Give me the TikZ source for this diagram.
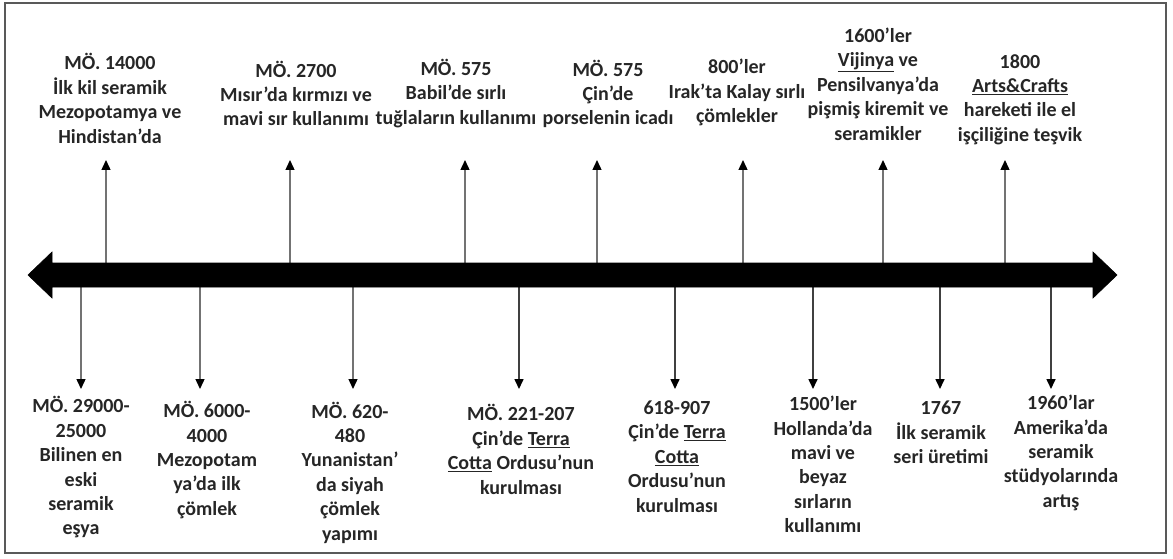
\documentclass[tikz,border=0pt]{standalone}
\usepackage{fontspec}
\setmainfont{Carlito}
\usetikzlibrary{arrows.meta}
\tikzset{
  lbl/.style={align=center, inner sep=0pt, font=\bfseries\fontsize{20}{24.4}\selectfont, text=black!85},
  tick/.style={draw=black!55, line width=1.4pt, -{Triangle[length=10pt,width=9pt,color=black]}},
  darktick/.style={tick, draw=black!75, line width=1.6pt},
  axis/.style={fill=black, draw=black, line width=0.6pt, line join=miter}
}
\newcommand{\myul}[1]{\underline{#1}}
\begin{document}
\begin{tikzpicture}[x=1pt,y=-1pt]
\useasboundingbox (0,0) rectangle (1173,559);
\fill[white] (0,0) rectangle (1173,559);
\draw[black!65, line width=1.8pt] (5,3) rectangle (1166,553);

% top labels
\node[lbl] (t1) at (110,98.5) {MÖ. 14000\\İlk kil seramik\\Mezopotamya ve\\Hindistan’da};
\node[lbl] (t2) at (296,93.5) {MÖ. 2700\\Mısır’da kırmızı ve\\mavi sır kullanımı};
\node[lbl] (t3) at (456,93.5) {MÖ. 575\\Babil’de sırlı\\tuğlaların kullanımı};
\node[lbl] (t4) at (608,94) {MÖ. 575\\Çin’de\\porselenin icadı};
\node[lbl] (t5) at (737,92.5) {800’ler\\Irak’ta Kalay sırlı\\çömlekler};
\node[lbl] (t6) at (878,84) {1600’ler\\\myul{Vijinya} ve\\Pensilvanya’da\\pişmiş kiremit ve\\seramikler};
\node[lbl] (t7) at (1020,99.5) {1800\\\myul{Arts\&Crafts}\\hareketi ile el\\işçiliğine teşvik};

% bottom labels
\node[lbl] (b1) at (81,467.5) {MÖ. 29000-\\25000\\Bilinen en\\eski\\seramik\\eşya};
\node[lbl] (b2) at (207,460) {MÖ. 6000-\\4000\\Mezopotam\\ya’da ilk\\çömlek};
\node[lbl] (b3) at (350,472.5) {MÖ. 620-\\480\\Yunanistan’\\da siyah\\çömlek\\yapımı};
\node[lbl] (b4) at (521,449.5) {MÖ. 221-207\\Çin’de \myul{Terra}\\\myul{Cotta} Ordusu’nun\\kurulması};
\node[lbl] (b5) at (677,456.5) {618-907\\Çin’de \myul{Terra}\\\myul{Cotta}\\Ordusu’nun\\kurulması};
\node[lbl] (b6) at (823,464.5) {1500’ler\\Hollanda’da\\mavi ve\\beyaz\\sırların\\kullanımı};
\node[lbl] (b7) at (941,432.5) {1767\\İlk seramik\\seri üretimi};
\node[lbl] (b8) at (1061,453) {1960’lar\\Amerika’da\\seramik\\stüdyolarında\\artış};

% connector end points
\foreach \n/\x in {1/106,2/290,3/465,4/597,5/743,6/883,7/1005}{
  \coordinate (us\n) at (\x,275);
  \coordinate (ue\n) at (\x,160);
}
\foreach \n/\x in {1/81,2/200,3/353,4/519,5/675,6/813,7/940,8/1051}{
  \coordinate (ds\n) at (\x,275);
  \coordinate (de\n) at (\x,389);
}
\foreach \n in {1,...,7}{\draw[tick] (us\n) -- (ue\n);}
\foreach \n in {1,2,3}{\draw[tick] (ds\n) -- (de\n);}
\foreach \n in {4,...,8}{\draw[darktick] (ds\n) -- (de\n);}

% main double arrow
\draw[axis] (28,275) -- (52,252) -- (52,263) -- (1093,263) -- (1093,252) -- (1117,275)
  -- (1093,298) -- (1093,287) -- (52,287) -- (52,298) -- cycle;
\end{tikzpicture}
\end{document}
